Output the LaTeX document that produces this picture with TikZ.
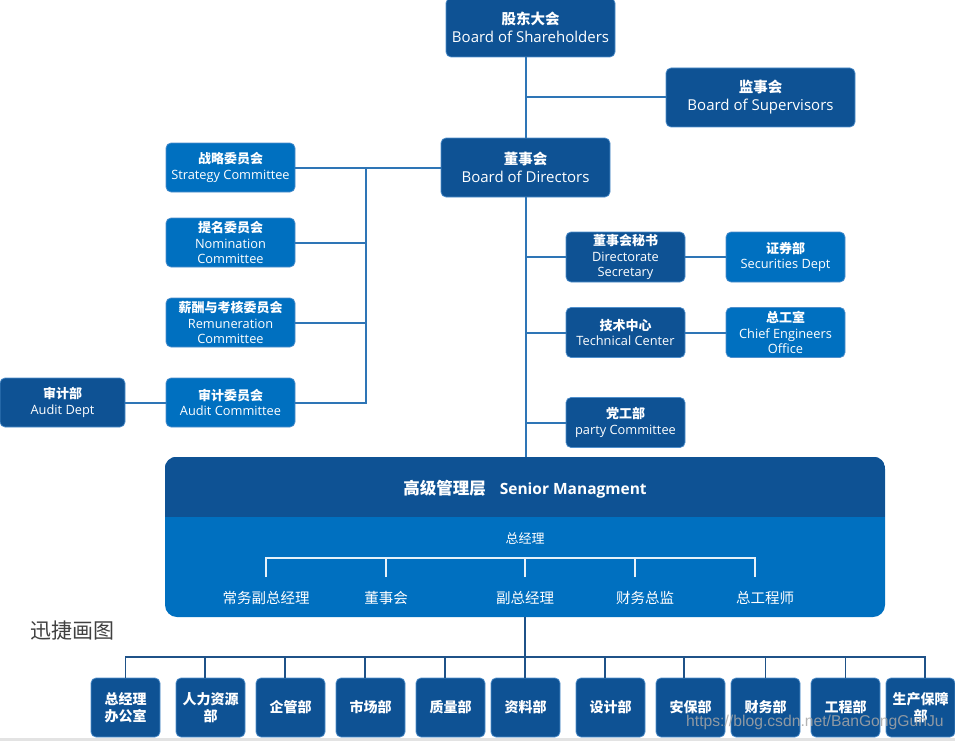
\documentclass[tikz,border=0pt]{standalone}
\usepackage{fontspec}
\setmainfont{Open Sans}
\newfontfamily\cjk{Noto Sans CJK SC}
\newfontfamily\wmfont{Liberation Sans}
\definecolor{dk}{HTML}{0E5294}
\definecolor{lt}{HTML}{0070C0}
\definecolor{bordc}{HTML}{4F8FCC}
\definecolor{ln}{HTML}{2E75B6}
\definecolor{lnb}{HTML}{1F5288}
\definecolor{txgray}{HTML}{404040}
\definecolor{wmgray}{HTML}{A6A6A6}
\newcommand{\zhb}[2]{{\cjk\bfseries\fontsize{#1}{#1}\selectfont #2}}
\tikzset{
  box/.style={rectangle, rounded corners=5pt, draw=bordc, line width=0.7pt, text=white, align=center, inner sep=0pt},
  dkbox/.style={box, fill=dk},
  ltbox/.style={box, fill=lt},
  bigbox/.style={dkbox, minimum width=169, minimum height=59, font=\fontsize{15}{18}\selectfont},
  cbox/.style={box, minimum width=129, minimum height=49, font=\fontsize{12.8}{15.5}\selectfont},
  rbox/.style={box, minimum width=119, minimum height=50, font=\fontsize{12.8}{15.5}\selectfont},
  dept/.style={dkbox, minimum width=69, minimum height=59, font=\cjk\bfseries\fontsize{14}{17}\selectfont},
  conn/.style={draw=ln, line width=2pt},
  bconn/.style={draw=lnb, line width=1.8pt},
  wline/.style={draw=white!90!lt, line width=1.5pt},
  smlabel/.style={text=white, font=\cjk\fontsize{14.5}{14.5}\selectfont, inner sep=0pt},
}
\begin{document}
\begin{tikzpicture}[x=1pt,y=-1pt]
\useasboundingbox (0,0) rectangle (955,741);
\fill[gray!22] (0,738) rectangle (955,741);

% top
\node[bigbox] (sh) at (530.5,27.5) {\zhb{14.5}{股东大会}\\Board of Shareholders};
\node[bigbox, minimum width=189] (sup) at (760.5,97.5) {\zhb{14.5}{监事会}\\Board of Supervisors};
\node[bigbox] (bod) at (525.5,167.5) {\zhb{14.5}{董事会}\\Board of Directors};

% committees
\node[cbox, fill=lt] (str) at (230.5,167.5) {\zhb{13}{战略委员会}\\Strategy Committee};
\node[cbox, fill=lt] (nom) at (230.5,242.5) {\zhb{13}{提名委员会}\\Nomination\\Committee};
\node[cbox, fill=lt] (rem) at (230.5,322.5) {\zhb{13}{薪酬与考核委员会}\\Remuneration\\Committee};
\node[cbox, fill=lt] (audc) at (230.5,402.5) {\zhb{13}{审计委员会}\\Audit Committee};
\node[cbox, fill=dk, minimum width=125] (audd) at (62.5,402.5) {\zhb{13}{审计部}\\Audit Dept};

% right side
\node[rbox, fill=dk] (ds) at (625.5,257) {\zhb{13}{董事会秘书}\\Directorate\\Secretary};
\node[rbox, fill=lt] (sec) at (785.5,257) {\zhb{13}{证券部}\\Securities Dept};
\node[rbox, fill=dk] (tc) at (625.5,332.5) {\zhb{13}{技术中心}\\Technical Center};
\node[rbox, fill=lt] (ceo) at (785.5,332.5) {\zhb{13}{总工室}\\Chief Engineers\\Office};
\node[rbox, fill=dk] (pc) at (625.5,422.5) {\zhb{13}{党工部}\\party Committee};

% senior management
\node[box, draw=none, fill=lt, rounded corners=12pt, minimum width=720, minimum height=160] (sm) at (525,537) {};
\begin{scope}
  \clip[rounded corners=12pt] (sm.north west) rectangle (sm.south east);
  \fill[dk] (sm.north west) rectangle (885,517);
\end{scope}
\node[text=white, inner sep=0pt] (smt) at (525,489) {\zhb{16.5}{高级管理层}\hspace{14pt}{\bfseries\fontsize{15.5}{16}\selectfont Senior Managment}};
\node[smlabel, font=\cjk\fontsize{13}{13}\selectfont] (gm) at (525,538) {总经理};
\node[smlabel] (s1) at (266,598) {常务副总经理};
\node[smlabel] (s2) at (386,598) {董事会};
\node[smlabel] (s3) at (525,598) {副总经理};
\node[smlabel] (s4) at (645,598) {财务总监};
\node[smlabel] (s5) at (765,598) {总工程师};
\coordinate (ib1) at (266,577);
\coordinate (ib2) at (386,577);
\coordinate (ib3) at (525,577);
\coordinate (ib4) at (635,577);
\coordinate (ib5) at (755,577);
\coordinate (iby) at (525,558);
\draw[wline] (ib1) -- (ib1 |- iby) -- (ib5 |- iby) -- (ib5);
\draw[wline] (ib2) -- (ib2 |- iby);
\draw[wline] (ib3) -- (ib3 |- iby);
\draw[wline] (ib4) -- (ib4 |- iby);

% departments
\node[dept] (b1) at (125.5,707.5) {总经理\\办公室};
\node[dept] (b2) at (210.5,707.5) {人力资源\\部};
\node[dept] (b3) at (290.5,707.5) {企管部};
\node[dept] (b4) at (370.5,707.5) {市场部};
\node[dept] (b5) at (450.5,707.5) {质量部};
\node[dept] (b6) at (525.5,707.5) {资料部};
\node[dept] (b7) at (610.5,707.5) {设计部};
\node[dept] (b8) at (690.5,707.5) {安保部};
\node[dept] (b9) at (765.5,707.5) {财务部};
\node[dept] (b10) at (845.5,707.5) {工程部};
\node[dept] (b11) at (920.5,707.5) {生产保障\\部};

% connectors upper
\draw[conn] (bod.north |- sh.south) -- (bod.north);
\draw[conn] (sup.west -| bod.north) -- (sup.west);
\draw[conn] (str.east) -- (bod.west);
\coordinate (lb) at (366,167.5);
\draw[conn] (lb) |- (audc.east);
\draw[conn] (nom.east) -- (nom.east -| lb);
\draw[conn] (rem.east) -- (rem.east -| lb);
\draw[conn] (audd.east) -- (audc.west);
\draw[conn] (bod.south) -- (bod.south |- sm.north);
\draw[conn] (ds.west -| bod.south) -- (ds.west);
\draw[conn] (tc.west -| bod.south) -- (tc.west);
\draw[conn] (pc.west -| bod.south) -- (pc.west);
\draw[conn] (ds.east) -- (sec.west);
\draw[conn] (tc.east) -- (ceo.west);

% connectors lower
\coordinate (bus) at (525,657);
\draw[bconn] (sm.south) -- (sm.south |- b6.north);
\draw[bconn] (b1.north) -- (b1.north |- bus) -- ([xshift=4.5pt]b11.north |- bus) -- ([xshift=4.5pt]b11.north);
\draw[bconn] ([xshift=-5.5pt]b2.north) -- ([xshift=-5.5pt]b2.north |- bus);
\draw[bconn] ([xshift=-5.5pt]b3.north) -- ([xshift=-5.5pt]b3.north |- bus);
\draw[bconn] ([xshift=-5.5pt]b4.north) -- ([xshift=-5.5pt]b4.north |- bus);
\draw[bconn] ([xshift=-5.5pt]b5.north) -- ([xshift=-5.5pt]b5.north |- bus);
\draw[bconn] ([xshift=-5.5pt]b7.north) -- ([xshift=-5.5pt]b7.north |- bus);
\draw[bconn] ([xshift=-6.5pt]b8.north) -- ([xshift=-6.5pt]b8.north |- bus);
\draw[bconn] (b9.north) -- (b9.north |- bus);
\draw[bconn] (b10.north) -- (b10.north |- bus);

% texts
\node[anchor=west, inner sep=0pt, text=txgray, font=\cjk\fontsize{21}{21}\selectfont] (xj) at (30,631) {迅捷画图};
\node[anchor=west, inner sep=0pt, text=wmgray, opacity=0.85, font=\wmfont\fontsize{15.7}{15.7}\selectfont] (wm) at (686,722) {https://blog.csdn.net/BanGongGunJu};
\end{tikzpicture}
\end{document}
